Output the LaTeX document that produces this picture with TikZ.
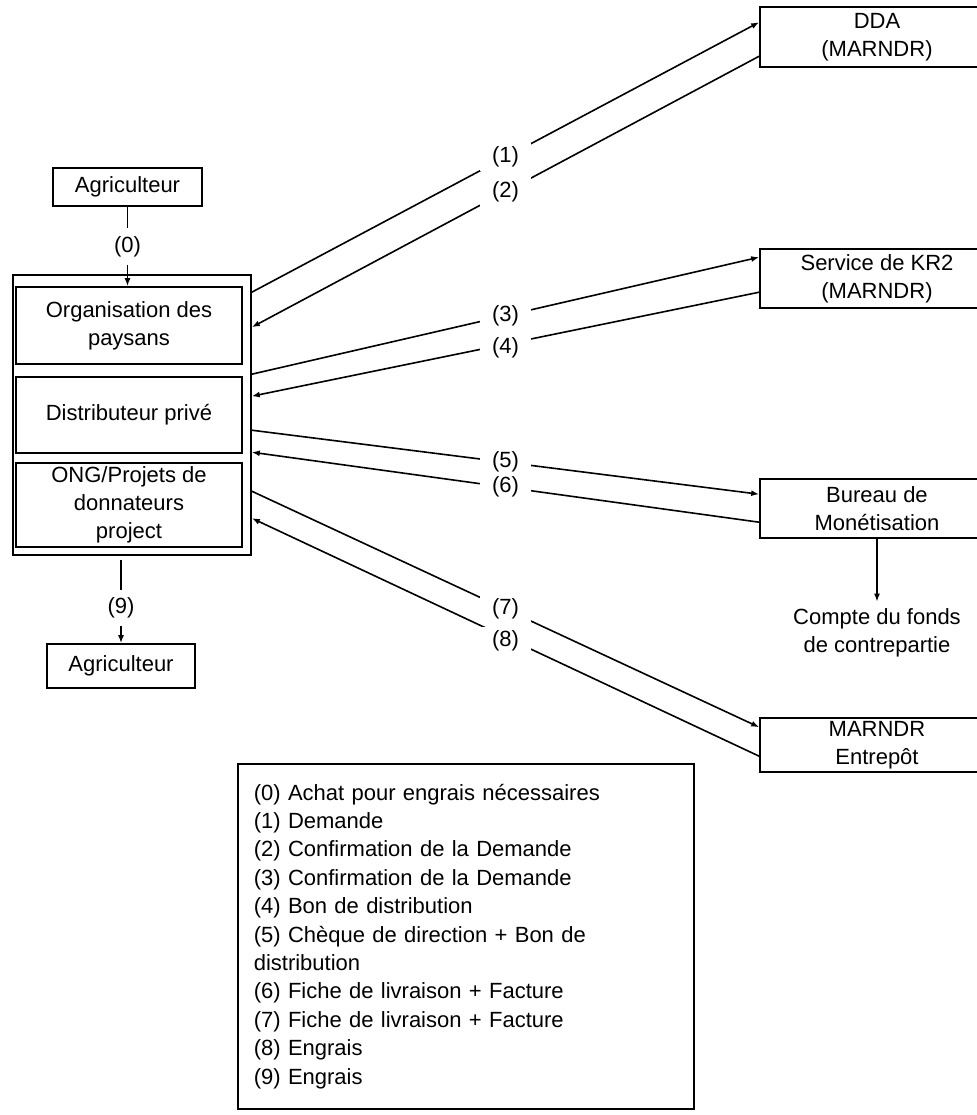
\documentclass[tikz,border=0pt]{standalone}
\usepackage{fontspec}
\setmainfont{Liberation Sans}
\usetikzlibrary{arrows.meta,calc}

\begin{document}
\begin{tikzpicture}[
		x=0.5pt, y=-0.5pt,
		font=\fontsize{11pt}{14pt}\selectfont,
		box/.style={draw, line width=0.8pt, align=center, inner sep=0pt},
		flow/.style={line width=0.8pt, -{Latex[length=4pt,width=3pt]}},
		num/.style={fill=white, inner xsep=6pt, inner ysep=2pt},
	]
		\useasboundingbox (0,0) rectangle (977,1115);

		% left column
		\node[box, minimum width=74.5pt, minimum height=19pt] (agri1) at (127.5,187) {Agriculteur};
		\node[box, minimum width=119pt, minimum height=140pt] (outer) at (132,415) {};
		\node[box, minimum width=113pt, minimum height=38.5pt] (org) at (129,325.5) {Organisation des\\paysans};
		\node[box, minimum width=113pt, minimum height=38pt] (dist) at (129,415) {Distributeur privé};
		\node[box, minimum width=113pt, minimum height=42pt] (ong) at (129,505) {ONG/Projets de\\donnateurs\\project};
		\node[box, minimum width=74pt, minimum height=22pt] (agri2) at (121,666) {Agriculteur};

		% right column
		\node[box, minimum width=117pt, minimum height=30pt] (dda) at (877,37) {DDA\\(MARNDR)};
		\node[box, minimum width=117pt, minimum height=29.5pt] (kr2) at (877,278.5) {Service de KR2\\(MARNDR)};
		\node[box, minimum width=117pt, minimum height=29.5pt] (bureau) at (877,508.5) {Bureau de\\Monétisation};
		\node[align=center] (compte) at (877,633) {Compte du fonds\\de contrepartie};
		\node[box, minimum width=117pt, minimum height=27pt] (entrepot) at (877,745) {MARNDR\\Entrepôt};

		% legend
		\node[draw, line width=0.8pt, anchor=north west, text width=212pt, inner xsep=8pt,
			minimum height=172.5pt, align=left, font=\fontsize{11pt}{14.2pt}\selectfont] (legend) at (237,763)
			{(0) Achat pour engrais nécessaires\\
			(1) Demande\\
			(2) Confirmation de la Demande\\
			(3) Confirmation de la Demande\\
			(4) Bon de distribution\\
			(5) Chèque de direction + Bon de\\
			distribution\\
			(6) Fiche de livraison + Facture\\
			(7) Fiche de livraison + Facture\\
			(8) Engrais\\
			(9) Engrais};

		% vertical flows
		\draw[flow] (agri1.south) -- node[num, inner ysep=4pt] {(0)} (agri1.south |- org.north);
		\draw[flow, shorten <=2pt] (agri2.north |- outer.south) -- node[num, pos=0.6, inner ysep=4pt] {(9)} (agri2.north);
		\draw[flow] (bureau.south) -- (bureau.south |- compte.north);

		% flows between the groups and the services
		\draw[flow] ($(outer.north east)+(0,18)$) -- node[num] {(1)} ($(dda.north west)+(0,16)$);
		\draw[flow] ($(dda.north west)+(0,50)$) -- node[num] {(2)} ($(outer.north east)+(0,53)$);
		\draw[flow] ($(outer.north east)+(0,100)$) -- node[num] {(3)} ($(kr2.north west)+(0,9)$);
		\draw[flow] ($(kr2.north west)+(0,44)$) -- node[num, yshift=-2pt] {(4)} ($(outer.north east)+(0,122)$);
		\draw[flow] ($(outer.north east)+(0,156)$) -- node[num] {(5)} ($(bureau.north west)+(0,16)$);
		\draw[flow] ($(bureau.north west)+(0,44)$) -- node[num] {(6)} ($(outer.north east)+(0,178)$);
		\draw[flow] ($(outer.north east)+(0,217)$) -- node[num] {(7)} ($(entrepot.north west)+(0,10)$);
		\draw[flow] ($(entrepot.north west)+(0,39)$) -- node[num, yshift=-2pt] {(8)} ($(outer.north east)+(0,244)$);
	\end{tikzpicture}
\end{document}
